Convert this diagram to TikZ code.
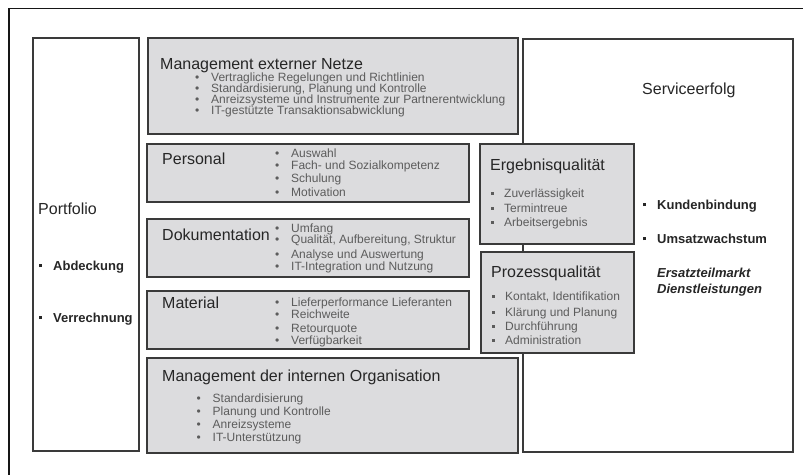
\documentclass[tikz,border=0pt]{standalone}
\usepackage{fontspec}
\setmainfont{Liberation Sans}
\definecolor{boxfill}{HTML}{DCDCDE}
\definecolor{boxline}{HTML}{3A3A3A}
\definecolor{titlec}{HTML}{262626}
\definecolor{itemc}{HTML}{5C5C5C}
\definecolor{framec}{HTML}{161616}
\newcommand\rbul{\makebox[16pt][l]{\textbullet}}
\newcommand\sqbul[3]{\makebox[#1][l]{\rule[#2]{#3}{#3}}}
\tikzset{
  graybox/.style={draw=boxline, line width=1.8pt, fill=boxfill, inner sep=0pt, anchor=north west},
  whitebox/.style={draw=boxline, line width=1.6pt, fill=white, inner sep=0pt, anchor=north west},
  frameline/.style={draw=framec, line width=1.8pt},
  title/.style={anchor=base west, inner sep=0pt, font=\fontsize{16}{18}\selectfont, text=titlec},
  item/.style={anchor=base west, inner sep=0pt, font=\fontsize{12}{13}\selectfont, text=itemc},
  bolditem/.style={anchor=base west, inner sep=0pt, font=\fontsize{13}{15}\selectfont\bfseries, text=titlec},
}
\begin{document}
\begin{tikzpicture}[x=1pt,y=-1pt]
\useasboundingbox (0,0) rectangle (803,475);
% outer frame (top and left edges)
\draw[frameline] (803,8.5) -- (9,8.5) -- (9,475);
% white boxes
\node[whitebox, minimum width=106pt, minimum height=413pt] (portfolio) at (32,37) {};
\node[whitebox, minimum width=270pt, minimum height=413pt] (service) at (522,38) {};
% gray boxes
\node[graybox, minimum width=370pt, minimum height=96pt] (netze) at (147,37) {};
\node[graybox, minimum width=322pt, minimum height=58pt] (personal) at (146,143) {};
\node[graybox, minimum width=322pt, minimum height=58pt] (doku) at (146,218) {};
\node[graybox, minimum width=322pt, minimum height=58pt] (material) at (146,290) {};
\node[graybox, minimum width=371pt, minimum height=95pt] (intern) at (146,357) {};
\node[graybox, minimum width=154pt, minimum height=100pt] (ergebnis) at (479,143) {};
\node[graybox, minimum width=153pt, minimum height=101pt] (prozess) at (480,251) {};
% Management externer Netze
\node[title] (netze-t) at (160,69) {Management externer Netze};
\foreach \txt/\yy [count=\i] in {{Vertragliche Regelungen und Richtlinien}/81,
  {Standardisierung, Planung und Kontrolle}/92,
  {Anreizsysteme und Instrumente zur Partnerentwicklung}/103,
  {IT-gestützte Transaktionsabwicklung}/114}
  \node[item] (netze-\i) at (195,\yy) {\rbul\txt};
% Personal
\node[title] (personal-t) at (162,164) {Personal};
\foreach \txt/\yy [count=\i] in {Auswahl/157, {Fach- und Sozialkompetenz}/169, Schulung/182, Motivation/196}
  \node[item] (personal-\i) at (275,\yy) {\rbul\txt};
% Dokumentation
\node[title] (doku-t) at (162,240) {Dokumentation};
\foreach \txt/\yy [count=\i] in {Umfang/232, {Qualität, Aufbereitung, Struktur}/243,
  {Analyse und Auswertung}/258, {IT-Integration und Nutzung}/270}
  \node[item] (doku-\i) at (275,\yy) {\rbul\txt};
% Material
\node[title] (material-t) at (162,308) {Material};
\foreach \txt/\yy [count=\i] in {{Lieferperformance Lieferanten}/306, Reichweite/318, Retourquote/332, Verfügbarkeit/344}
  \node[item] (material-\i) at (275,\yy) {\rbul\txt};
% Management der internen Organisation
\node[title] (intern-t) at (162,381) {Management der internen Organisation};
\foreach \txt/\yy [count=\i] in {Standardisierung/402, {Planung und Kontrolle}/415, Anreizsysteme/428, IT-Unterstützung/441}
  \node[item] (intern-\i) at (196.5,\yy) {\rbul\txt};
% Ergebnisqualität
\node[title] (ergebnis-t) at (490,170) {Ergebnisqualität};
\foreach \txt/\yy [count=\i] in {Zuverlässigkeit/197, Termintreue/212, Arbeitsergebnis/226}
  \node[item] (ergebnis-\i) at (491,\yy) {\sqbul{13pt}{2.5pt}{3pt}\txt};
% Prozessqualität
\node[title] (prozess-t) at (491,277) {Prozessqualität};
\foreach \txt/\yy [count=\i] in {{Kontakt, Identifikation}/300, {Klärung und Planung}/316, Durchführung/330, Administration/344}
  \node[item] (prozess-\i) at (491.5,\yy) {\sqbul{13.5pt}{2.5pt}{3pt}\txt};
% Serviceerfolg
\node[title] (service-t) at (642,94) {Serviceerfolg};
\node[bolditem] (service-1) at (642.5,209) {\sqbul{14.5pt}{3pt}{3.5pt}Kundenbindung};
\node[bolditem] (service-2) at (642.5,243) {\sqbul{14.5pt}{3pt}{3.5pt}Umsatzwachstum};
\node[bolditem, font=\fontsize{13}{15}\selectfont\bfseries\itshape] (service-3) at (657,277) {Ersatzteilmarkt};
\node[bolditem, font=\fontsize{13}{15}\selectfont\bfseries\itshape] (service-4) at (657,293) {Dienstleistungen};
% Portfolio
\node[title] (portfolio-t) at (38,214) {Portfolio};
\node[bolditem] (portfolio-1) at (38.5,270) {\sqbul{14.5pt}{3pt}{3.5pt}Abdeckung};
\node[bolditem] (portfolio-2) at (38.5,322) {\sqbul{14.5pt}{3pt}{3.5pt}Verrechnung};
\end{tikzpicture}
\end{document}
